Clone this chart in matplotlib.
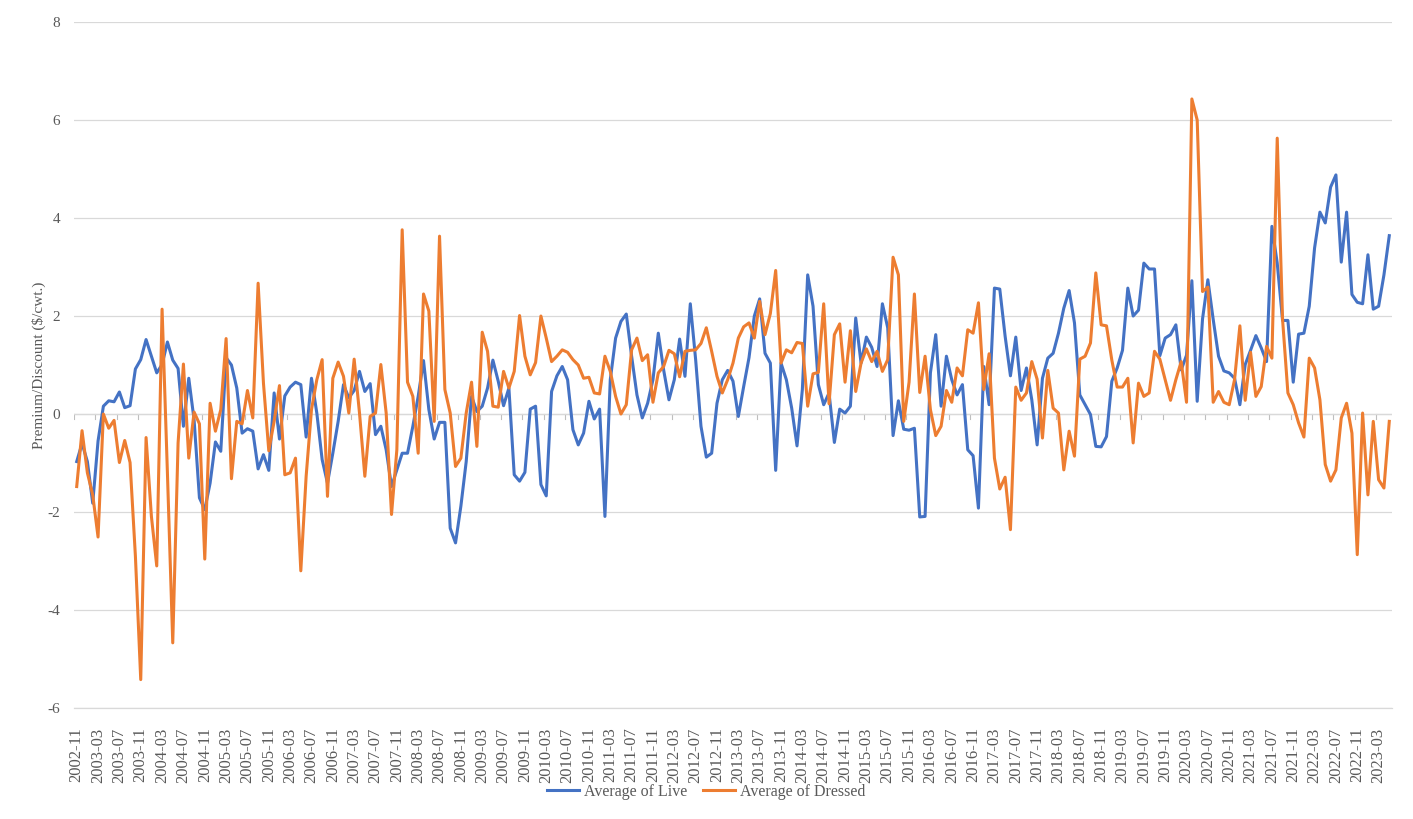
import matplotlib
matplotlib.use('Agg')
import matplotlib.pyplot as plt
import pandas as pd

# monthly averages, Nov 2002 .. May 2023
months = [str(p) for p in pd.period_range('2002-11', periods=247, freq='M')]

live = [
    -0.97, -0.6, -0.97, -1.82, -0.55, 0.16, 0.27, 0.25, 0.45, 0.13,
    0.17, 0.92, 1.11, 1.52, 1.18, 0.84, 1.01, 1.47, 1.10, 0.93,
    -0.25, 0.73, -0.12, -1.71, -1.95, -1.41, -0.57, -0.76, 1.15, 1.0,
    0.53, -0.39, -0.30, -0.35, -1.12, -0.83, -1.15, 0.43, -0.51, 0.37,
    0.55, 0.65, 0.60, -0.47, 0.73, 0.02, -0.93, -1.41, -0.8, -0.15,
    0.6, 0.33, 0.48, 0.87, 0.46, 0.62, -0.42, -0.25, -0.73, -1.48,
    -1.14, -0.8, -0.8, -0.25, 0.36, 1.09, 0.09, -0.51, -0.17, -0.17,
    -2.33, -2.63, -1.88, -0.97, 0.36, 0.05, 0.16, 0.53, 1.1, 0.67,
    0.17, 0.53, -1.24, -1.37, -1.19, 0.1, 0.16, -1.44, -1.67, 0.46,
    0.78, 0.97, 0.7, -0.32, -0.63, -0.39, 0.26, -0.1, 0.1, -2.09,
    0.7, 1.55, 1.89, 2.04, 1.18, 0.39, -0.08, 0.22, 0.7, 1.65,
    0.9, 0.29, 0.7, 1.53, 0.77, 2.25, 1.11, -0.25, -0.88, -0.8,
    0.22, 0.7, 0.89, 0.67, -0.05, 0.56, 1.15, 2.0, 2.35, 1.24,
    1.04, -1.15, 1.04, 0.7, 0.12, -0.65, 0.5, 2.84, 2.2, 0.6,
    0.19, 0.43, -0.58, 0.1, 0.02, 0.16, 1.96, 1.04, 1.57, 1.36,
    0.97, 2.25, 1.76, -0.44, 0.27, -0.31, -0.33, -0.29, -2.1, -2.09,
    0.84, 1.62, 0.16, 1.18, 0.7, 0.39, 0.6, -0.73, -0.85, -1.92,
    0.97, 0.19, 2.57, 2.55, 1.59, 0.78, 1.57, 0.48, 0.94, 0.29,
    -0.63, 0.73, 1.14, 1.24, 1.65, 2.16, 2.52, 1.86, 0.39, 0.19,
    -0.01, -0.66, -0.67, -0.46, 0.67, 0.94, 1.3, 2.57, 2.0, 2.12,
    3.08, 2.96, 2.96, 1.19, 1.55, 1.62, 1.82, 0.9, 1.2, 2.72,
    0.26, 1.94, 2.74, 1.93, 1.18, 0.88, 0.84, 0.73, 0.19, 1.01,
    1.3, 1.6, 1.35, 1.07, 3.83, 3.08, 1.91, 1.91, 0.65, 1.63,
    1.65, 2.2, 3.39, 4.12, 3.9, 4.63, 4.88, 3.1, 4.12, 2.44,
    2.28, 2.25, 3.25, 2.14, 2.2, 2.84, 3.64,
]

dressed = [
    -1.48, -0.34, -1.2, -1.65, -2.51, 0.0, -0.29, -0.13, -0.99, -0.54,
    -0.99, -2.9, -5.42, -0.48, -2.09, -3.1, 2.14, -1.2, -4.67, -0.59,
    1.02, -0.9, 0.04, -0.2, -2.96, 0.22, -0.35, 0.09, 1.54, -1.32,
    -0.15, -0.2, 0.48, -0.08, 2.67, 0.63, -0.75, -0.15, 0.58, -1.24,
    -1.2, -0.9, -3.2, -1.27, 0.09, 0.7, 1.11, -1.68, 0.73, 1.06,
    0.77, 0.02, 1.12, 0.02, -1.27, -0.05, 0.02, 1.01, 0.02, -2.05,
    -0.73, 3.76, 0.65, 0.36, -0.8, 2.45, 2.1, -0.15, 3.63, 0.5,
    0.02, -1.07, -0.9, 0.02, 0.65, -0.66, 1.67, 1.28, 0.16, 0.14,
    0.87, 0.53, 0.87, 2.01, 1.18, 0.8, 1.05, 2.0, 1.55, 1.07,
    1.18, 1.31, 1.26, 1.11, 1.0, 0.73, 0.75, 0.43, 0.41, 1.18,
    0.87, 0.36, 0.0, 0.19, 1.31, 1.55, 1.09, 1.21, 0.24, 0.84,
    0.97, 1.3, 1.23, 0.76, 1.28, 1.3, 1.31, 1.44, 1.76, 1.28,
    0.77, 0.43, 0.7, 1.04, 1.55, 1.78, 1.86, 1.55, 2.3, 1.62,
    2.05, 2.93, 1.04, 1.31, 1.25, 1.46, 1.44, 0.16, 0.82, 0.85,
    2.25, 0.21, 1.62, 1.84, 0.65, 1.7, 0.46, 1.04, 1.33, 1.07,
    1.28, 0.87, 1.11, 3.2, 2.84, -0.15, 0.65, 2.45, 0.44, 1.18,
    0.09, -0.44, -0.25, 0.48, 0.24, 0.94, 0.78, 1.72, 1.65, 2.27,
    0.5, 1.23, -0.9, -1.53, -1.29, -2.36, 0.55, 0.28, 0.43, 1.07,
    0.71, -0.49, 0.89, 0.12, 0.02, -1.14, -0.35, -0.86, 1.12, 1.18,
    1.45, 2.88, 1.82, 1.8, 1.1, 0.55, 0.55, 0.73, -0.59, 0.63,
    0.36, 0.43, 1.28, 1.12, 0.7, 0.28, 0.7, 1.07, 0.24, 6.43,
    6.0, 2.5, 2.59, 0.24, 0.46, 0.24, 0.19, 0.7, 1.8, 0.28,
    1.26, 0.36, 0.56, 1.38, 1.14, 5.63, 1.93, 0.43, 0.19, -0.18,
    -0.47, 1.14, 0.94, 0.29, -1.03, -1.37, -1.14, -0.08, 0.22, -0.39,
    -2.87, 0.02, -1.65, -0.15, -1.34, -1.51, -0.15,
]

plt.rcParams['font.family'] = ['Liberation Serif', 'DejaVu Serif']
plt.rcParams['axes.unicode_minus'] = False
grey = '#595959'

fig = plt.figure(figsize=(14.13, 8.19), dpi=100)
ax = fig.add_axes([0.0524, 0.1355, 0.9327, 0.8376])

x = list(range(len(months)))
ax.plot(x, live, color='#4472C4', lw=2.2, label='Average of Live')
ax.plot(x, dressed, color='#ED7D31', lw=2.2, label='Average of Dressed')

ax.set_xlim(-0.5, len(months) - 0.5)
ax.set_ylim(-6, 8)
ax.set_yticks(range(-6, 9, 2))
ax.grid(axis='y', color='#D9D9D9', lw=0.9)
ax.set_axisbelow(True)
for s in ax.spines.values():
    s.set_visible(False)
ax.axhline(0, color='#D9D9D9', lw=0.9, zorder=0)
ax.axhline(-6, color='#D9D9D9', lw=0.9, zorder=0, clip_on=False)

# category labels every 4 months, ticks between categories
ax.set_xticks(x[::4])
ax.set_xticklabels(months[::4], rotation=90, fontsize=12, color=grey)
ax.tick_params(axis='x', length=0, pad=14)
for t in x[::4]:
    ax.plot([t - 0.5, t - 0.5], [0, -0.1], color='#BFBFBF', lw=0.8, zorder=0)
ax.tick_params(axis='y', length=0, labelsize=11, labelcolor=grey, pad=10)

ax.set_ylabel('Premium/Discount ($/cwt.)', fontsize=11, color=grey, labelpad=1)

fig.legend(loc='center', bbox_to_anchor=(0.5, 0.033), ncol=2, frameon=False,
           fontsize=11.5, labelcolor=grey, handlelength=2.0, handletextpad=0.3,
           columnspacing=1.0)

fig.savefig('out.png', dpi=100)
